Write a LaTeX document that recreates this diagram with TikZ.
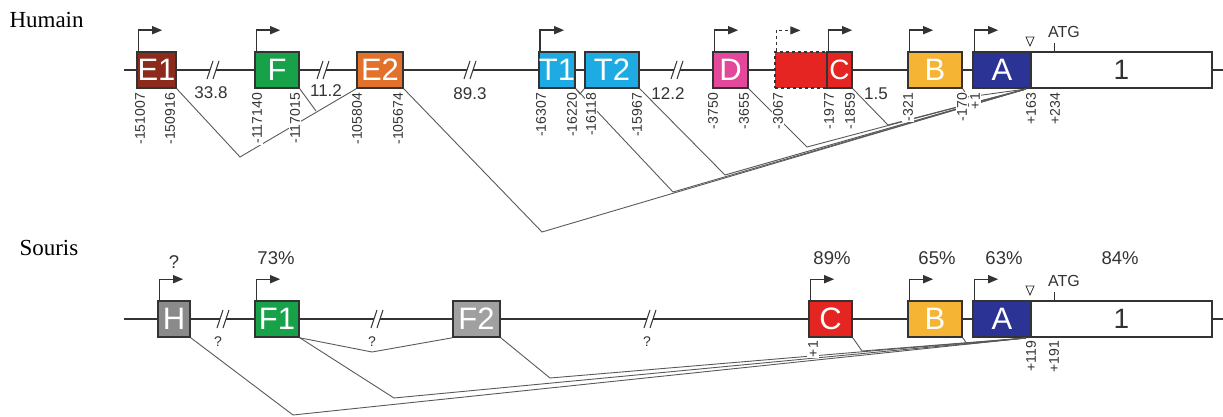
\documentclass[tikz,border=0pt]{standalone}
\usepackage{fontspec}
\setmainfont{Liberation Serif}
\setsansfont{Liberation Sans}
\usetikzlibrary{positioning,arrows.meta}

\definecolor{colE}{HTML}{8C2A1C}
\definecolor{colF}{HTML}{17A24A}
\definecolor{colEE}{HTML}{E2712C}
\definecolor{colT}{HTML}{1EAAE2}
\definecolor{colD}{HTML}{E4489B}
\definecolor{colC}{HTML}{E52521}
\definecolor{colB}{HTML}{F6B434}
\definecolor{colA}{HTML}{2B3394}
\definecolor{colH}{HTML}{8A8A8A}
\definecolor{colFF}{HTML}{A0A0A0}
\definecolor{ink}{HTML}{333333}

\begin{document}
\begin{tikzpicture}[x=1pt,y=-1pt,
	exon/.style={rectangle, draw=ink, line width=1.6pt, minimum height=36pt, inner sep=0pt, text=white, font=\sffamily\fontsize{31}{31}\selectfont},
	prom/.style={draw=ink, line width=1.4pt, -{Triangle[length=10pt,width=8pt]}},
	splice/.style={draw=black!65, line width=0.9pt},
	poslab/.style={rotate=90, anchor=east, fill=white, inner sep=1pt, text=ink, font=\sffamily\fontsize{14}{14}\selectfont},
	dist/.style={text=ink, inner sep=1pt, font=\sffamily\fontsize{17}{17}\selectfont},
	pct/.style={text=ink, font=\sffamily\fontsize{18.5}{18.5}\selectfont},
	qm/.style={text=ink, font=\sffamily\fontsize{14}{14}\selectfont}
	]
	\useasboundingbox (0,0) rectangle (1223,417);
	
	% species
	\node[anchor=west, font=\fontsize{23}{23}\selectfont] (hum) at (6,20) {Humain};
	\node[anchor=west, font=\fontsize{23}{23}\selectfont] (sou) at (16,248) {Souris};
	
	% backbones
	\draw[ink, line width=1.6pt] (124,70) -- (1223,70);
	\draw[ink, line width=1.6pt] (124,319) -- (1223,319);
	
	% breaks
	\foreach \x/\y in {213/70,323/70,470/70,677/70,223/319,377/319,650/319} {
		\fill[white] (\x-6,\y+9) -- (\x,\y-9) -- (\x+6,\y-9) -- (\x,\y+9) -- cycle;
		\draw[ink, line width=1pt] (\x-6,\y+9) -- (\x,\y-9) (\x,\y+9) -- (\x+6,\y-9);
	}
	
	% human exons
	\node[exon, fill=colE, minimum width=39pt] (hE1) at (156.5,70) {E1};
	\node[exon, fill=colF, minimum width=44pt] (hF) at (277,70) {F};
	\node[exon, fill=colEE, minimum width=46pt] (hE2) at (380,70) {E2};
	\node[exon, fill=colT, minimum width=36pt] (hT1) at (557,70) {T1};
	\node[exon, fill=colT, minimum width=54pt] (hT2) at (612,70) {T2};
	\node[exon, fill=colD, minimum width=35pt] (hD) at (730.5,70) {D};
	\node[exon, fill=colC, minimum width=52pt, dashed, line width=1.2pt] (hX) at (801,70) {};
	\node[exon, fill=colC, minimum width=25pt, font=\sffamily\fontsize{28}{28}\selectfont] (hC) at (839.5,70) {C};
	\node[exon, fill=colB, minimum width=54pt] (hB) at (935,70) {B};
	\node[exon, fill=colA, minimum width=58pt] (hA) at (1002,70) {A};
	\node[exon, fill=white, text=ink, minimum width=181pt, font=\sffamily\fontsize{28}{28}\selectfont] (hEx) at (1121.5,70) {1};
	
	% mouse exons
	\node[exon, fill=colH, minimum width=32pt] (mH) at (174,319) {H};
	\node[exon, fill=colF, minimum width=44pt] (mF1) at (277,319) {F1};
	\node[exon, fill=colFF, minimum width=47pt] (mF2) at (476.5,319) {F2};
	\node[exon, fill=colC, minimum width=43pt] (mC) at (830.5,319) {C};
	\node[exon, fill=colB, minimum width=54pt] (mB) at (935,319) {B};
	\node[exon, fill=colA, minimum width=58pt] (mA) at (1002,319) {A};
	\node[exon, fill=white, text=ink, minimum width=181pt, font=\sffamily\fontsize{28}{28}\selectfont] (mEx) at (1121.5,319) {1};
	
	% promoters
	\foreach \n in {hE1,hF,hT1,hD,hC,hB,hA,mH,mF1,mC,mB,mA}
		\draw[prom] ([xshift=2pt]\n.north west) |- ++(24,-21);
	\draw[prom, dashed, line width=1pt] ([xshift=2pt]hX.north west) |- ++(24,-21);
	
	% ATG and cap site
	\foreach \y in {52,301} {
		\draw[ink, line width=1pt] (1054,\y) -- (1054,\y-9);
		\node[text=ink, font=\sffamily\fontsize{16}{16}\selectfont] at (1064,\y-20) {ATG};
		\draw[ink, line width=0.8pt] (1026,\y-15) -- (1034,\y-15) -- (1030,\y-6) -- cycle;
	}
	
	% human splicing
	\coordinate (hv1) at (240,157);
	\coordinate (hv2) at (542,232);
	\coordinate (hconv) at (1026,89);
	\draw[splice] (hE1.south east) -- (hv1) -- (hE2.south west);
	\draw[splice] (hF.south east) -- (316,111);
	\draw[splice] (hE2.south east) -- (hv2) -- (hconv);
	\draw[splice] (hT1.south east) -- (580,94) -- (hT2.south west);
	\draw[splice] (hT1.south east) -- (673,192) -- (hconv);
	\draw[splice] (hT2.south east) -- (725,175) -- (hconv);
	\draw[splice] (hD.south east) -- (807,147) -- (hconv);
	\draw[splice] (hC.south east) -- (888,125) -- (hconv);
	\draw[splice] (hB.south east) -- (968,97) -- (hconv);
	
	% mouse splicing
	\coordinate (mconv) at (1026,338);
	\draw[splice] (mH.south east) -- (293,415) -- (mconv);
	\draw[splice] (mF1.south east) -- (372,352) -- (mF2.south west);
	\draw[splice] (mF1.south east) -- (394,398) -- (mconv);
	\draw[splice] (mF2.south east) -- (550,378) -- (mconv);
	\draw[splice] (mC.south east) -- (862,351) -- (mconv);
	\draw[splice] (mB.south east) -- (967,344) -- (mconv);
	
	% positions
	\foreach \x/\t in {140/-151007,170/-150916,257/-117140,295/-117015,357/-105804,398/-105674,
		541/-16307,572/-16220,591/-16118,637/-15967,713/-3750,744/-3655,778/-3067,
		829/-1977,850/-1859,908/-321,962/-170,975/+1,1031/+163,1055/+234}
		\node[poslab] at (\x,92) {\t};
	\foreach \x/\t in {813/+1,1031/+119,1054/+191}
		\node[poslab] at (\x,340) {\t};
	
	% distances
	\node[dist] at (211,93) {33.8};
	\node[dist] at (326,91) {11.2};
	\node[dist] at (470,94) {89.3};
	\node[dist] at (668,94) {12.2};
	\node[dist] at (876,94) {1.5};
	\foreach \x in {218,372,647}
		\node[qm] at (\x,342) {?};
	
	% conservation
	\node[pct] at (174,262) {?};
	\node[pct] at (276,258) {73\%};
	\node[pct] at (832,258) {89\%};
	\node[pct] at (937,258) {65\%};
	\node[pct] at (1004,258) {63\%};
	\node[pct] at (1120,258) {84\%};
\end{tikzpicture}
\end{document}
